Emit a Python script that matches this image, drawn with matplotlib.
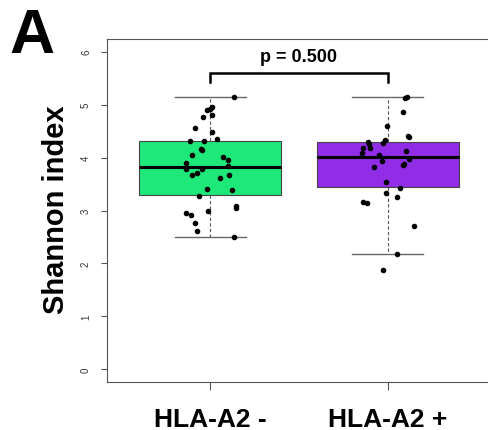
import matplotlib
matplotlib.use("Agg")
from matplotlib import pyplot as plt
import numpy as np

plt.rcParams['font.family'] = ['Liberation Sans', 'DejaVu Sans']

groups = ["HLA-A2 -", "HLA-A2 +"]
colors = ["#1EE87A", "#912DE6"]

# box stats: whislo, q1, med, q3, whishi
stats_neg = [2.49, 3.29, 3.82, 4.32, 5.14]
stats_pos = [2.18, 3.44, 4.02, 4.30, 5.15]

# individual samples (value, horizontal jitter)
vals_neg = [5.14, 4.95, 4.91, 4.89, 4.80, 4.77, 4.56, 4.48, 4.35, 4.31, 4.31, 4.17,
            4.14, 4.04, 4.01, 3.95, 3.90, 3.84, 3.78, 3.78, 3.67, 3.70, 3.68, 3.61,
            3.40, 3.38, 3.28, 3.09, 3.04, 2.99, 2.95, 2.91, 2.76, 2.61, 2.49]
jit_neg = [0.133, 0.010, 0.002, -0.019, 0.011, -0.039, -0.084, 0.008, 0.038, -0.112,
           -0.037, -0.051, -0.043, -0.104, 0.071, 0.098, -0.137, 0.103, -0.138, -0.045,
           -0.104, -0.076, 0.105, 0.054, -0.020, 0.122, -0.062, 0.144, 0.146, -0.011,
           -0.135, -0.108, -0.086, -0.073, 0.137]
vals_pos = [5.13, 5.14, 4.87, 4.60, 4.41, 4.39, 4.34, 4.27, 4.30, 4.25, 4.18, 4.19,
            4.09, 4.12, 4.05, 3.97, 3.94, 3.88, 3.86, 3.82, 3.53, 3.43, 3.33, 3.26,
            3.17, 3.15, 2.71, 2.18, 1.87]
jit_pos = [0.098, 0.105, 0.084, -0.007, 0.112, 0.120, -0.017, -0.026, -0.112, -0.107,
           -0.099, -0.142, -0.148, 0.101, -0.052, 0.116, -0.035, 0.090, 0.084, -0.076,
           -0.013, 0.066, -0.013, 0.054, -0.142, -0.118, 0.146, 0.051, -0.030]

p_label = "p = 0.500"

fig = plt.figure(figsize=(4.89, 4.31), dpi=100)
ax = fig.add_axes([107 / 489, 48 / 431, 384 / 489, 343 / 431])

bstats = []
for s, lab in zip([stats_neg, stats_pos], groups):
    bstats.append(dict(whislo=s[0], q1=s[1], med=s[2], q3=s[3], whishi=s[4], label=lab))

bp = ax.bxp(bstats, positions=[1, 2], widths=0.8, showfliers=False, patch_artist=True,
            capwidths=0.4,
            boxprops=dict(edgecolor="#444444", linewidth=0.8),
            medianprops=dict(color="black", linewidth=2.2),
            whiskerprops=dict(color="#555555", linewidth=0.8, linestyle=(0, (3, 2))),
            capprops=dict(color="#666666", linewidth=1.0))
for patch, c in zip(bp['boxes'], colors):
    patch.set_facecolor(c)
    patch.set_zorder(2)
for m in bp['medians']:
    m.set_zorder(3)

ax.plot(1 + np.array(jit_neg), vals_neg, 'o', color='black', ms=3.0, zorder=4)
ax.plot(2 + np.array(jit_pos), vals_pos, 'o', color='black', ms=3.0, zorder=4)

# significance bracket
ax.plot([1, 1, 2, 2], [5.42, 5.59, 5.59, 5.42], color='black', lw=1.8, zorder=4,
        solid_joinstyle='miter')
ax.text(1.5, 5.91, p_label, ha='center', va='center', fontsize=13, fontweight='bold')

ax.set_xlim(0.42, 2.58)
ax.set_ylim(-0.24, 6.24)
ax.set_yticks(range(0, 7))
ax.set_yticklabels([str(i) for i in range(0, 7)], rotation=90, va='center',
                   fontsize=7, color='#333333')
ax.tick_params(axis='y', length=4.5, width=0.8, color='#555555', pad=7)
ax.set_xticks([1, 2])
ax.set_xticklabels(groups, fontsize=19, fontweight='bold')
ax.tick_params(axis='x', length=6, width=0.8, color='#555555', pad=12)
for sp in ax.spines.values():
    sp.set_color('#555555')
    sp.set_linewidth(0.8)

fig.text(56 / 489, 1 - 210 / 431, "Shannon index", rotation=90, ha='center', va='center',
         fontsize=21, fontweight='bold')
fig.text(9 / 489, 1 - 53 / 431, "A", ha='left', va='baseline', fontsize=45,
         fontweight='bold')

fig.savefig("out.png", dpi=100)
